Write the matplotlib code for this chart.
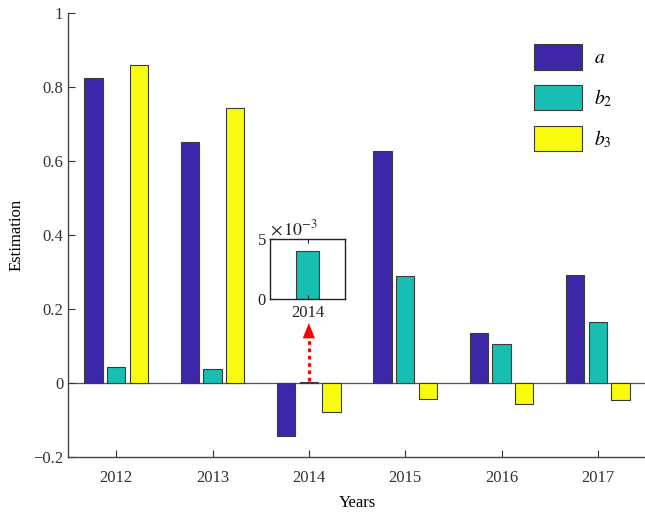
import numpy as np
import matplotlib
matplotlib.use("Agg")
import matplotlib.pyplot as plt

plt.rcParams['font.family'] = ['Liberation Serif', 'DejaVu Serif']
plt.rcParams['mathtext.fontset'] = 'stix'

#----- data -----
years = [2012, 2013, 2014, 2015, 2016, 2017]
a_vals = [0.825, 0.652, -0.143, 0.628, 0.135, 0.292]
b2_vals = [0.043, 0.038, 0.004, 0.289, 0.105, 0.165]
b3_vals = [0.860, 0.744, -0.078, -0.043, -0.057, -0.046]
inset_b2 = 4.0  # x 1e-3, year 2014

col_a = '#3D26A8'
col_b2 = '#17BFB2'
col_b3 = '#F9FB0E'
edge = '#3a3a3a'

fig = plt.figure(figsize=(6.45, 5.16), dpi=100)
ax = fig.add_axes([68/645, 1-457/516, (646-68)/645, (457-13)/516])

x = np.array(years)
off = 0.235
w = 0.19
ax.bar(x - off, a_vals, w, color=col_a, edgecolor=edge, lw=0.8, label='$a$')
ax.bar(x, b2_vals, w, color=col_b2, edgecolor=edge, lw=0.8, label='$b_2$')
ax.bar(x + off, b3_vals, w, color=col_b3, edgecolor=edge, lw=0.8, label='$b_3$')
ax.axhline(0, color='#555555', lw=0.9, zorder=0.5)

ax.set_xlim(2011.5, 2017.5)
ax.set_ylim(-0.2, 1)
ax.set_xticks(years)
ax.set_yticks([-0.2, 0, 0.2, 0.4, 0.6, 0.8, 1])
ax.set_yticklabels(['\u22120.2', '0', '0.2', '0.4', '0.6', '0.8', '1'])
ax.tick_params(direction='in', length=5, labelsize=12, colors='#333333', width=0.8)
ax.tick_params(axis='x', pad=9)
ax.spines['top'].set_visible(False)
ax.spines['right'].set_visible(False)
for s in ['left', 'bottom']:
    ax.spines[s].set_color('#444444')
    ax.spines[s].set_linewidth(1.0)
ax.set_xlabel('Years', fontsize=12, labelpad=7)
ax.set_ylabel('Estimation', fontsize=12, labelpad=6)

leg = ax.legend(loc='upper left', bbox_to_anchor=(0.806, 0.93), frameon=False,
                fontsize=14, handlelength=2.5, handleheight=1.65, labelspacing=0.78,
                handletextpad=0.6, borderaxespad=0, borderpad=0)

# red dotted arrow to inset: dotted shaft + solid head
ax.plot([2014, 2014], [0.006, 0.128], color='red', ls=(0, (1.2, 1.2)), lw=2.2)
ax.annotate('', xy=(2014, 0.162), xytext=(2014, 0.12),
            arrowprops=dict(arrowstyle='-|>,head_length=0.55,head_width=0.22',
                            color='red', lw=0.01, mutation_scale=20,
                            shrinkA=0, shrinkB=0))

#----- inset -----
ins = fig.add_axes([270/645, 1-299/516, 75/645, 60/516])
ins.bar([2014], [inset_b2], 0.3, color=col_b2, edgecolor=edge, lw=0.8)
ins.set_xlim(2013.5, 2014.5)
ins.set_ylim(0, 5)
ins.set_xticks([2014])
ins.set_yticks([0, 5])
ins.tick_params(direction='in', length=3, labelsize=12, colors='#222222', pad=3)
ins.tick_params(axis='x', top=True, pad=4)
for s in ins.spines.values():
    s.set_color('#222222')
    s.set_linewidth(1.0)
ins.text(0.0, 1.0, r'$\times\,10^{-3}$', transform=ins.transAxes, fontsize=13,
         ha='left', va='bottom', color='#222222')

fig.savefig('out.png', dpi=100)
